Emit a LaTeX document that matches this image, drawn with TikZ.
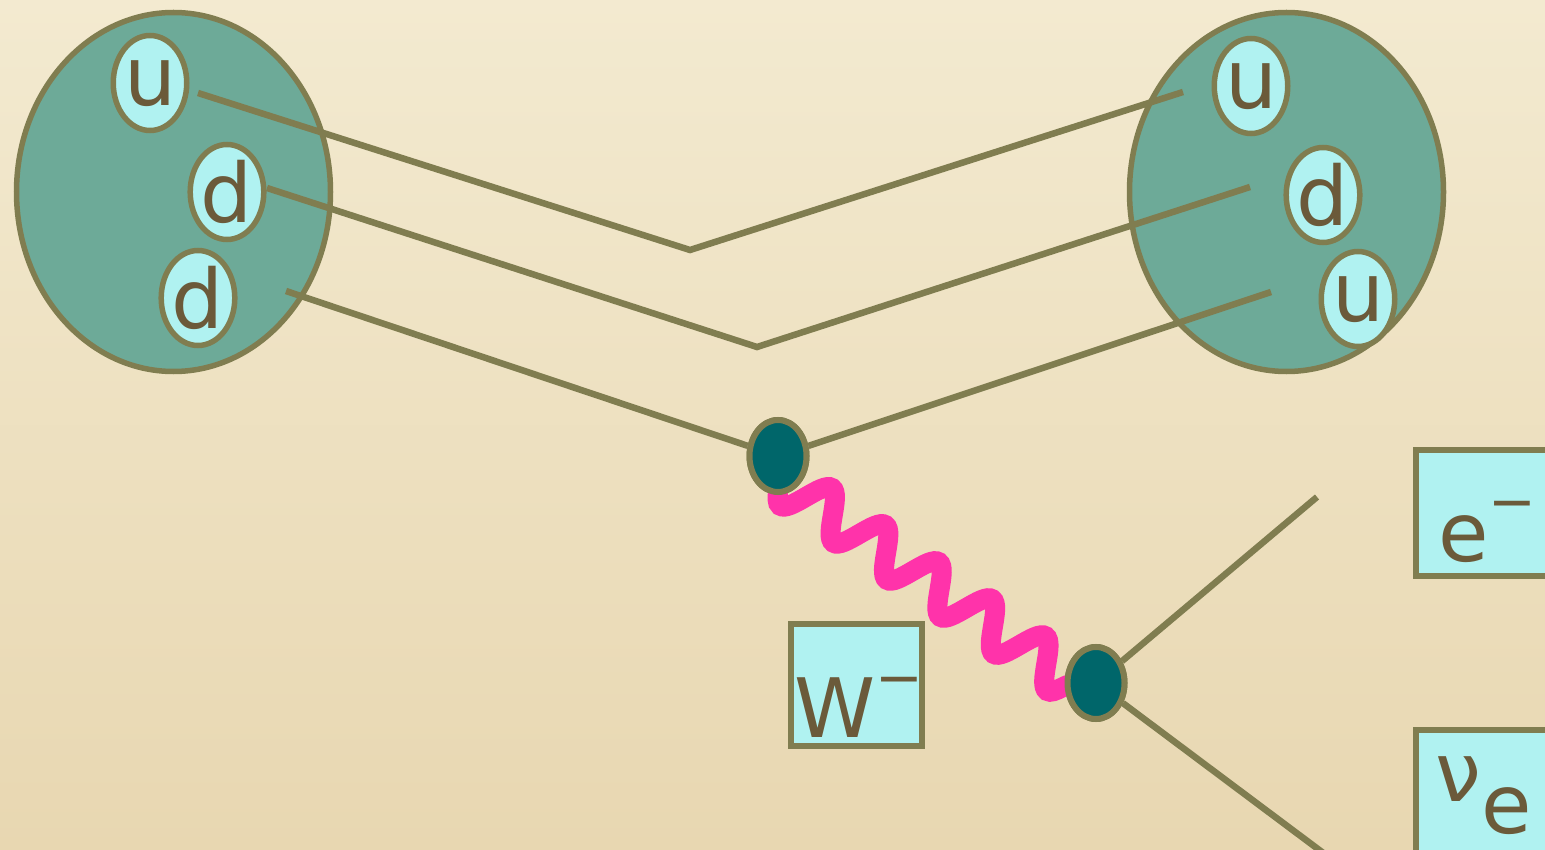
\documentclass[tikz,border=0pt]{standalone}
\usepackage{fontspec}
\setmainfont{DejaVu Sans}
\usepackage{tikz}
\usetikzlibrary{shapes.geometric,decorations.pathmorphing}
\usepackage{xcolor}
\definecolor{bgtop}{HTML}{F3EAD0}
\definecolor{bgbot}{HTML}{E8D7B1}
\definecolor{rim}{HTML}{807D50}
\definecolor{protonfill}{HTML}{6DAA98}
\definecolor{quarkfill}{HTML}{B0F2F1}
\definecolor{vtxfill}{HTML}{00666A}
\definecolor{wpink}{HTML}{FF33AA}
\definecolor{ink}{HTML}{6B5A3A}
\newcommand{\bigtext}{\fontsize{82}{90}\selectfont}
\newcommand{\chgminus}{\raisebox{40pt}{\fontsize{57}{60}\selectfont −}}

\begin{document}
\begin{tikzpicture}[x=1pt,y=-1pt,
                    proton/.style={ellipse,draw=rim,line width=5.5pt,fill=protonfill,minimum width=314pt,minimum height=359pt,inner sep=0pt},
                    quark/.style={ellipse,draw=rim,line width=5.5pt,fill=quarkfill,minimum width=70pt,minimum height=95pt,inner sep=0pt,text=ink,font=\bigtext},
                    vtx/.style={ellipse,draw=rim,line width=6pt,fill=vtxfill,minimum width=57pt,minimum height=72pt,inner sep=0pt},
                    quarkline/.style={draw=rim,line width=6.5pt},
                    wboson/.style={draw=wpink,line width=20pt,decorate,decoration={snake,mirror,amplitude=22pt,segment length=65pt}},
                    namebox/.style={rectangle,draw=rim,line width=6pt,fill=quarkfill,text=ink,font=\bigtext,inner ysep=0pt,align=left,anchor=north west}]
                    \useasboundingbox (0,0) rectangle (1545,850);
                    \clip (0,0) rectangle (1545,850);
                    \shade[top color=bgtop,bottom color=bgbot] (0,0) rectangle (1545,850);
                    % neutron before, proton after
                    \node[proton] (pin) at (173.5,192) {};
                    \node[proton] (pout) at (1286.5,192) {};
                    \node[quark] (u1) at (150,83) {u};
                    \node[quark] (d1) at (227,192) {d};
                    \node[quark] (d2) at (198,298) {d};
                    \node[quark] (u2) at (1251,86) {u};
                    \node[quark] (d3) at (1323,195) {d};
                    \node[quark] (u3) at (1358,299) {u};
                    \coordinate (a1) at (198,93);
                    \coordinate (b1) at (690,250);
                    \coordinate (c1) at (1183,92);
                    \coordinate (a2) at (267,188);
                    \coordinate (b2) at (757,347);
                    \coordinate (c2) at (1250,187);
                    \coordinate (a3) at (286,291);
                    \coordinate (c3) at (1271,292);
                    \coordinate (eout) at (1317,497);
                    \coordinate (nout) at (1330,858);
                    \draw[quarkline] (a1) -- (b1) -- (c1);
                    \draw[quarkline] (a2) -- (b2) -- (c2);
                    \node[vtx] (v1) at (778,456) {};
                    \node[vtx] (v2) at (1096,683) {};
                    \draw[quarkline] (a3) -- (v1) -- (c3);
                    \draw[quarkline] (v2) -- (eout);
                    \draw[quarkline] (v2) -- (nout);
                    % W line, ends hidden under the vertices
                    \coordinate (wa) at (776,476);
                    \coordinate (wb) at (1096,698);
                    \draw[wboson] (wa) -- (wb);
                    \node[vtx] at (v1) {};
                    \node[vtx] at (v2) {};
                    % labels
                    \node[namebox,text width=125pt,inner xsep=3pt,text height=113pt,text depth=9pt] (wlbl) at (788,621) {W\chgminus};
                    \node[namebox,text width=104pt,inner xsep=22pt,text height=111pt,text depth=15pt] (elbl) at (1413,447) {e\chgminus};
                    \node[namebox,minimum width=150pt,minimum height=150pt] (nbox) at (1413,727) {};
                    \node[text=ink,font=\bigtext,inner sep=0pt,anchor=base west] (nlbl) at (1435,801) {ν\raisebox{-32pt}{e}};
                \end{tikzpicture}
\end{document}
